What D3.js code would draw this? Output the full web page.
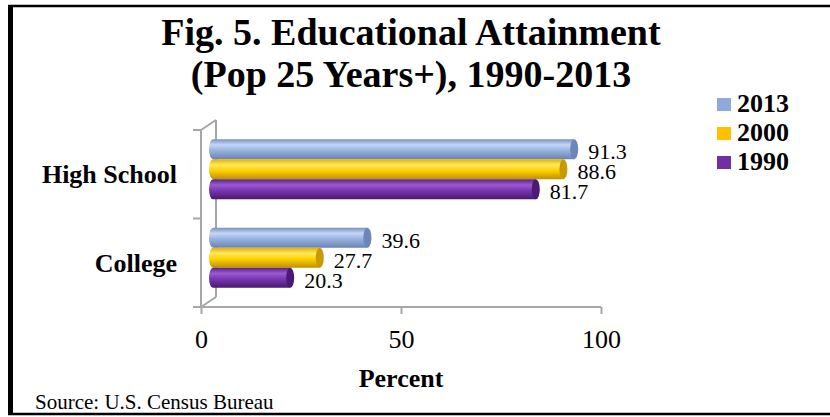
<!DOCTYPE html>
<html>
<head>
<meta charset="utf-8">
<script src="https://cdn.jsdelivr.net/npm/d3@7"></script>
<style>
  html, body { margin: 0; padding: 0; background: #fff; }
  svg { display: block; }
</style>
</head>
<body>
<svg id="chart" width="830" height="417"></svg>
<script>
// ---- data ----
const categories = ["High School", "College"];
const seriesNames = ["2013", "2000", "1990"];
const values2013 = [91.3, 39.6];
const values2000 = [88.6, 27.7];
const values1990 = [81.7, 20.3];
const tickValues = [0, 50, 100];
const titleLines = ["Fig. 5. Educational Attainment", "(Pop 25 Years+), 1990-2013"];
const axisTitle = "Percent";
const sourceNote = "Source: U.S. Census Bureau";

const seriesValues = { "2013": values2013, "2000": values2000, "1990": values1990 };
const SERIF = "'Liberation Serif', 'Times New Roman', serif";

// cylinder shading: edge, highlight, body, shadow, end cap
const palette = {
  "2013": { swatch: "#8eaadb", stops: ["#7590c0", "#c4d6f4", "#9ab4e2", "#6a83b3"], cap: "#6c86b8" },
  "2000": { swatch: "#ffc000", stops: ["#e0b000", "#ffe860", "#ffd300", "#c08f00"], cap: "#c99a00" },
  "1990": { swatch: "#7030a0", stops: ["#5a2288", "#9a5ad0", "#7a38b0", "#481870"], cap: "#4a1a76" }
};

const svg = d3.select("#chart").attr("font-family", SERIF);

// ---- scales (front plane of the 3-D box) ----
const x = d3.scaleLinear().domain([0, 100]).range([201, 601]);
const y = d3.scaleBand().domain(categories).range([130, 307])
  .paddingInner(0.32).paddingOuter(0.16);
const ySeries = d3.scaleBand().domain(seriesNames).range([0, y.bandwidth()]);

// depth offsets: back wall and mid-depth plane holding the bars
const wall = { dx: 15, dy: -10 };
const mid = { dx: 8, dy: -5 };

// ---- gradients ----
const defs = svg.append("defs");
seriesNames.forEach(s => {
  const g = defs.append("linearGradient").attr("id", "cyl" + s)
    .attr("x1", 0).attr("y1", 0).attr("x2", 0).attr("y2", 1);
  const st = palette[s].stops;
  [[0, st[0]], [0.28, st[1]], [0.55, st[2]], [1, st[3]]].forEach(([o, c]) =>
    g.append("stop").attr("offset", o).attr("stop-color", c));
});

// ---- frame around the figure ----
svg.append("line").attr("x1", 10.5).attr("x2", 10.5).attr("y1", 5).attr("y2", 415)
  .attr("stroke", "#000").attr("stroke-width", 5);
svg.append("line").attr("x1", 8).attr("x2", 830).attr("y1", 6).attr("y2", 6)
  .attr("stroke", "#000").attr("stroke-width", 2.5);
svg.append("line").attr("x1", 8).attr("x2", 830).attr("y1", 414).attr("y2", 414)
  .attr("stroke", "#000").attr("stroke-width", 2.5);

// ---- title ----
svg.append("g").selectAll("text").data(titleLines).join("text")
  .attr("x", 411).attr("y", (d, i) => 45 + i * 42)
  .attr("font-family", SERIF)
  .attr("text-anchor", "middle").attr("font-size", 38).attr("font-weight", "bold")
  .text(d => d);

// ---- 3-D box walls ----
const gridColor = "#a6a6a6";
const walls = svg.append("g").attr("stroke", gridColor).attr("stroke-width", 2).attr("fill", "none");
const [yTop, yBot] = y.range();
const x0 = x(0);
walls.append("line").attr("x1", x0).attr("x2", x0).attr("y1", yTop).attr("y2", yBot);
walls.append("line").attr("x1", x0 + wall.dx).attr("x2", x0 + wall.dx)
  .attr("y1", yTop + wall.dy).attr("y2", yBot + wall.dy);
walls.append("line").attr("x1", x0).attr("y1", yTop).attr("x2", x0 + wall.dx).attr("y2", yTop + wall.dy);
walls.append("line").attr("x1", x0).attr("y1", yBot).attr("x2", x0 + wall.dx).attr("y2", yBot + wall.dy);

// category ticks sit on band boundaries
const catTicks = [yTop, ...categories.slice(1).map(c => y(c) - y.step() * y.paddingInner() / 2), yBot];
walls.selectAll(".ctick").data(catTicks).join("line")
  .attr("x1", x0 - 8).attr("x2", x0).attr("y1", d => d).attr("y2", d => d);

// ---- value axis ----
const xAxis = svg.append("g").attr("transform", `translate(0,${yBot})`)
  .call(d3.axisBottom(x).tickValues(tickValues).tickSize(7).tickPadding(15));
xAxis.attr("font-family", SERIF);
xAxis.select(".domain").attr("stroke", gridColor).attr("stroke-width", 2)
  .attr("d", `M${x(0)},0H${x(100)}`);
xAxis.selectAll(".tick line").attr("stroke", gridColor).attr("stroke-width", 2);
xAxis.selectAll(".tick text")
  .attr("font-family", SERIF)
  .attr("font-size", 26).attr("fill", "#000").attr("dy", null).attr("y", 41);

svg.append("text").attr("x", 401).attr("y", 387).attr("text-anchor", "middle")
  .attr("font-family", SERIF)
  .attr("font-size", 26).attr("font-weight", "bold").text(axisTitle);

// ---- category labels ----
svg.append("g").selectAll("text").data(categories).join("text")
  .attr("x", 177).attr("y", d => y(d) + y.bandwidth() / 2 + 9)
  .attr("font-family", SERIF)
  .attr("text-anchor", "end").attr("font-size", 26).attr("font-weight", "bold")
  .text(d => d);

// ---- cylinders ----
const rx = 4;
const bars = [];
categories.forEach((c, ci) => seriesNames.forEach(s => {
  bars.push({ cat: c, series: s, value: seriesValues[s][ci] });
}));

const barG = svg.append("g").selectAll("g").data(bars).join("g")
  .attr("transform", d => `translate(${mid.dx},${y(d.cat) + ySeries(d.series) + mid.dy})`);

const h = ySeries.bandwidth();
barG.append("path")
  .attr("d", d => {
    const xs = x(0) + rx, xe = x(d.value);
    return `M${xs},0 H${xe} V${h} H${xs} A${rx},${h / 2} 0 0 1 ${xs},0 Z`;
  })
  .attr("fill", d => `url(#cyl${d.series})`);
barG.append("ellipse")
  .attr("cx", d => x(d.value)).attr("cy", h / 2)
  .attr("rx", rx).attr("ry", h / 2)
  .attr("fill", d => palette[d.series].cap);

// value labels
barG.append("text")
  .attr("x", d => x(d.value) + rx + 10).attr("y", h / 2 + 10)
  .attr("font-family", SERIF)
  .attr("font-size", 22).attr("fill", "#000").text(d => d.value.toFixed(1));

// ---- legend ----
const legend = svg.append("g").selectAll("g").data(seriesNames).join("g")
  .attr("transform", (d, i) => `translate(717,${98 + i * 29})`);
legend.append("rect").attr("width", 14).attr("height", 13)
  .attr("fill", d => palette[d].swatch);
legend.append("text").attr("x", 20).attr("y", 14)
  .attr("font-family", SERIF)
  .attr("font-size", 26).attr("font-weight", "bold").text(d => d);

// ---- source note ----
svg.append("text").attr("x", 35).attr("y", 409)
  .attr("font-family", SERIF)
  .attr("font-size", 21).text(sourceNote);
</script>
</body>
</html>
